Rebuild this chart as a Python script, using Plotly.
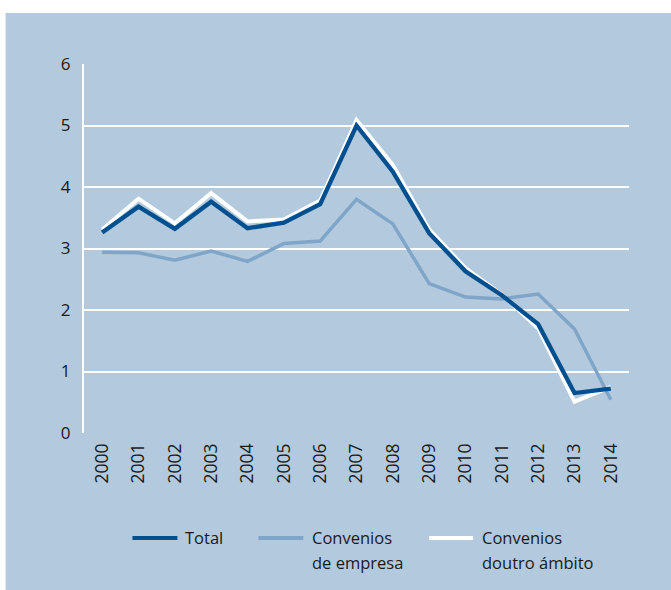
import plotly.graph_objects as go

# Years on the x axis
years = list(range(2000, 2015))

# Series values
total = [3.26, 3.68, 3.32, 3.76, 3.33, 3.42, 3.72, 5.00, 4.25, 3.25, 2.63, 2.24, 1.77, 0.65, 0.72]
convenios_empresa = [2.94, 2.93, 2.81, 2.96, 2.79, 3.08, 3.12, 3.80, 3.40, 2.43, 2.21, 2.18, 2.26, 1.69, 0.54]
convenios_outro = [3.31, 3.81, 3.41, 3.90, 3.44, 3.47, 3.78, 5.09, 4.36, 3.31, 2.68, 2.25, 1.70, 0.51, 0.75]

year_labels = [str(y) for y in years]
y_ticks = [0, 1, 2, 3, 4, 5, 6]

# Legend labels (one list entry per text line)
legend_labels = [["Total"], ["Convenios", "de empresa"], ["Convenios", "doutro ámbito"]]

BG = "#B3C9DD"
DARK = "#00508F"
LIGHT = "#7FA5C8"
FONT = "Open Sans"
TEXT = "#1a1a1a"

W, H = 671, 590
ML, MR, MT, MB = 83.5, 42, 64, 157
PW, PH = W - ML - MR, H - MT - MB


def px_x(px):
    return (px - ML) / PW


def px_y(py):
    return (H - MB - py) / PH


fig = go.Figure()

# Draw order: white underneath, then light blue, dark blue on top
fig.add_trace(go.Scatter(
    x=years, y=convenios_outro, mode="lines",
    line=dict(color="white", width=4), showlegend=False,
))
fig.add_trace(go.Scatter(
    x=years, y=convenios_empresa, mode="lines",
    line=dict(color=LIGHT, width=3.5), showlegend=False,
))
fig.add_trace(go.Scatter(
    x=years, y=total, mode="lines",
    line=dict(color=DARK, width=4.3), showlegend=False,
))

shapes = [
    # light blue panel behind the whole chart
    dict(type="rect", xref="paper", yref="paper",
         x0=px_x(5), x1=px_x(W + 2), y0=px_y(H + 2), y1=px_y(13),
         fillcolor=BG, line=dict(width=0), layer="below"),
]
annotations = []

# Legend: line sample plus label lines
legend_colors = [DARK, LIGHT, "white"]
sample_x = [(132, 177), (258, 303), (429, 473)]
text_x = [183, 310, 480]
line_y = [537, 562]
for color, (sx0, sx1), tx, lines in zip(legend_colors, sample_x, text_x, legend_labels):
    shapes.append(dict(type="line", xref="paper", yref="paper",
                       x0=px_x(sx0), x1=px_x(sx1), y0=px_y(538), y1=px_y(538),
                       line=dict(color=color, width=4)))
    for i, txt in enumerate(lines):
        annotations.append(dict(xref="paper", yref="paper",
                                x=px_x(tx), y=px_y(line_y[i]),
                                xanchor="left", yanchor="middle",
                                text=txt, showarrow=False,
                                font=dict(family=FONT, size=16.5, color=TEXT)))

fig.update_layout(
    width=W, height=H,
    margin=dict(l=ML, r=MR, t=MT, b=MB),
    paper_bgcolor="white",
    plot_bgcolor=BG,
    font=dict(family=FONT, size=17, color=TEXT),
    showlegend=False,
    shapes=shapes,
    annotations=annotations,
)

fig.update_xaxes(
    range=[1999.5, 2014.5],
    tickmode="array", tickvals=years, ticktext=year_labels,
    tickangle=-90,
    tickfont=dict(family=FONT, size=17.5, color=TEXT),
    showgrid=False, zeroline=False,
    showline=False, ticks="", ticklabelstandoff=6,
    fixedrange=True,
)
fig.update_yaxes(
    range=[0, 6],
    tickmode="array", tickvals=y_ticks,
    tickfont=dict(family=FONT, size=17, color=TEXT),
    showgrid=True, gridcolor="white", gridwidth=2,
    zeroline=False,
    showline=True, linecolor="white", linewidth=2,
    ticks="", ticklabelstandoff=8,
    fixedrange=True,
)

fig.write_html("out.html")
